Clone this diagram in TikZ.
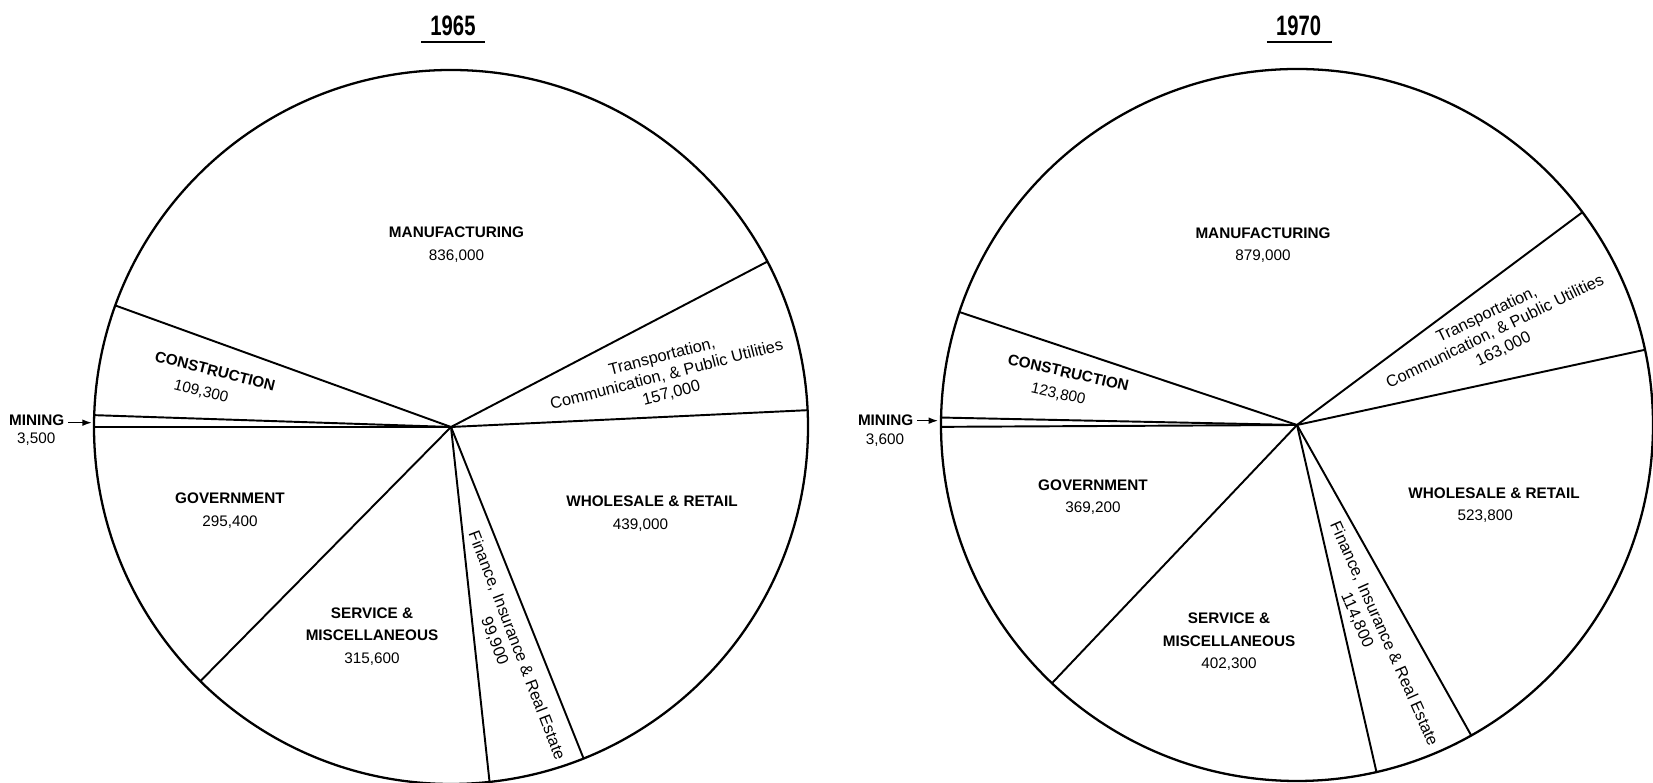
\documentclass[tikz,border=0pt]{standalone}
\usepackage{fontspec}
\setmainfont{Liberation Sans}
\usepackage{graphicx}
\usepackage{tikz}
\usetikzlibrary{arrows.meta}

\tikzset{
	rim/.style = {line width = 1.3pt},
	spoke/.style = {line width = 1.1pt},
	underline/.style = {line width = 1.2pt},
	pointer/.style = {line width = 0.9pt, -{Latex[length = 5.5pt, width = 3.8pt]}, shorten <= 2pt},
	year/.style = {font = \fontsize{16}{16}\selectfont\bfseries, inner sep = 0pt},
	sector/.style = {font = \fontsize{8.7}{12.8}\selectfont, align = center, inner sep = 0pt},
	fine/.style = {font = \fontsize{9.3}{10.8}\selectfont, align = center, inner sep = 0pt}
}

\begin{document}
\begin{tikzpicture}[x = 0.02cm, y = 0.02cm]
		%page frame, bottom of both circles is cut off
		\useasboundingbox (0,0) rectangle (1653,783);
		\clip (0,0) rectangle (1653,783);
		
		%definition of centres and radii
		\coordinate (O1) at (451,356);
		\coordinate (O2) at (1297,358);
		\def\Ra{357};
		\def\Rb{356};
		
		%1965
		\draw [rim] (O1) circle [radius = \Ra];
		\draw [spoke] (O1) -- ++(2.7:\Ra);
		\draw [spoke] (O1) -- ++(27.6:\Ra);
		\draw [spoke] (O1) -- ++(160.1:\Ra);
		\draw [spoke] (O1) -- ++(178.1:\Ra);
		\draw [spoke] (O1) -- ++(180:\Ra);
		\draw [spoke] (O1) -- ++(225.4:\Ra);
		\draw [spoke] (O1) -- ++(276.2:\Ra);
		\draw [spoke] (O1) -- ++(291.8:\Ra);
		
		\node (year1) [year] at (453,757) {\scalebox{0.72}[1]{1965}};
		\draw [underline] ([shift = {(-5pt,-3.4pt)}]year1.south west) -- ([shift = {(5pt,-3.4pt)}]year1.south east);
		
		\node (manuf1) [sector] at (456.5,538.5) {{\bfseries MANUFACTURING}\\836,000};
		\node (trans1) [fine, rotate = 14.5] at (666.7,408) {Transportation,\\Communication, \& Public Utilities\\157,000};
		\node (whole1) [sector] at (652,269.5) {{\bfseries WHOLESALE \& RETAIL}\\439,000\hspace*{13pt}};
		\node (fin1) [fine, rotate = -69] at (507.6,134) {Finance, Insurance \& Real Estate\\99,900\hspace*{13.7pt}};
		\node (serv1) [sector] at (372,146.5) {{\bfseries SERVICE \&}\\{\bfseries MISCELLANEOUS}\\315,600};
		\node (gov1) [sector] at (230,272.5) {{\bfseries GOVERNMENT}\\295,400};
		\node (cons1) [sector, rotate = -14] at (212.3,400.2) {{\bfseries CONSTRUCTION}\\109,300\hspace*{10pt}};
		
		\node (mining1) [sector] at (36.7,363) {\bfseries MINING};
		\node (mval1) [sector] at (36.2,343.7) {3,500};
		\coordinate (mtip1) at (92,360.3);
		\draw [pointer] (mining1.east |- mtip1) -- (mtip1);
		
		%1970
		\draw [rim] (O2) circle [radius = \Rb];
		\draw [spoke] (O2) -- ++(12.2:\Rb);
		\draw [spoke] (O2) -- ++(36.7:\Rb);
		\draw [spoke] (O2) -- ++(161.5:\Rb);
		\draw [spoke] (O2) -- ++(178.8:\Rb);
		\draw [spoke] (O2) -- ++(180.3:\Rb);
		\draw [spoke] (O2) -- ++(226.5:\Rb);
		\draw [spoke] (O2) -- ++(282.9:\Rb);
		\draw [spoke] (O2) -- ++(299.3:\Rb);
		
		\node (year2) [year] at (1298.5,757) {\scalebox{0.72}[1]{1970}};
		\draw [underline] ([shift = {(-5pt,-3.4pt)}]year2.south west) -- ([shift = {(6pt,-3.4pt)}]year2.south east);
		
		\node (manuf2) [sector] at (1263,538) {{\bfseries MANUFACTURING}\\879,000};
		\node (trans2) [fine, rotate = 26] at (1495,451.3) {Transportation,\\Communication, \& Public Utilities\\163,000};
		\node (whole2) [sector] at (1494,278) {{\bfseries WHOLESALE \& RETAIL}\\523,800\hspace*{10pt}};
		\node (fin2) [fine, rotate = -66] at (1375.2,145.2) {Finance, Insurance \& Real Estate\\114,800\hspace*{26.7pt}};
		\node (serv2) [sector] at (1229,141) {{\bfseries SERVICE \&}\\{\bfseries MISCELLANEOUS}\\402,300};
		\node (gov2) [sector] at (1093,286) {{\bfseries GOVERNMENT}\\369,200};
		\node (cons2) [sector, rotate = -12.5] at (1065.8,398.5) {{\bfseries CONSTRUCTION}\\123,800\hspace*{6pt}};
		
		\node (mining2) [sector] at (885.6,363) {\bfseries MINING};
		\node (mval2) [sector] at (885,343) {3,600};
		\coordinate (mtip2) at (938.3,362.3);
		\draw [pointer] (mining2.east |- mtip2) -- (mtip2);
		
	\end{tikzpicture}
\end{document}
